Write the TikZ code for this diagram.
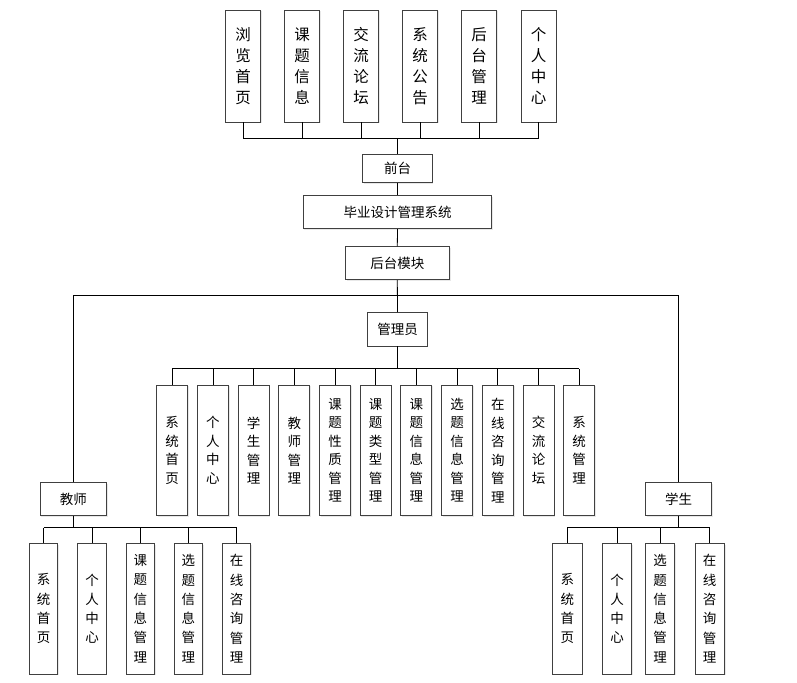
\documentclass[tikz,border=0pt]{standalone}
\usepackage{fontspec}
\setmainfont{Noto Sans CJK SC}
\usetikzlibrary{shadows}
\begin{document}
\begin{tikzpicture}[x=1pt,y=-1pt,
  box/.style={draw=black!75,line width=0.9pt,fill=white,inner sep=0pt,align=center,
    drop shadow={opacity=0.18,shadow xshift=1.2pt,shadow yshift=-1.2pt}},
  topv/.style={box,minimum width=35pt,minimum height=112pt,font=\fontsize{15.5}{21}\selectfont},
  midv/.style={box,minimum width=31pt,minimum height=130.5pt,font=\fontsize{13.5}{18.5}\selectfont},
  lowv/.style={box,minimum width=28.5pt,minimum height=130.5pt,font=\fontsize{13.5}{19.3}\selectfont},
  hbox/.style={box,font=\fontsize{13.5}{15}\selectfont},
  conn/.style={line width=0.8pt,black}]
\useasboundingbox (0,0) rectangle (797,682);
% top modules
\node[topv] (t1) at (243.2,66) {浏\\览\\首\\页};
\node[topv] (t2) at (302,66) {课\\题\\信\\息};
\node[topv] (t3) at (361,66) {交\\流\\论\\坛};
\node[topv] (t4) at (420.2,66) {系\\统\\公\\告};
\node[topv] (t5) at (479.2,66) {后\\台\\管\\理};
\node[topv] (t6) at (538.5,66) {个\\人\\中\\心};
\coordinate (yA) at (0,138);
\node[hbox,minimum width=69.5pt,minimum height=28pt] (qt) at (397.5,168.3) {前台};
\node[hbox,minimum width=188.5pt,minimum height=33pt] (sys) at (397.5,212.2) {毕业设计管理系统};
\node[hbox,minimum width=104pt,minimum height=33pt] (ht) at (397.3,263.2) {后台模块};
\coordinate (yB) at (0,295.5);
\node[hbox,minimum width=59.5pt,minimum height=33.3pt] (gly) at (397.5,329.3) {管理员};
\coordinate (yC) at (0,368.7);
% admin children
\node[midv] (a1) at (172.2,450.4) {系\\统\\首\\页};
\node[midv] (a2) at (212.9,450.4) {个\\人\\中\\心};
\node[midv] (a3) at (253.6,450.4) {学\\生\\管\\理};
\node[midv] (a4) at (294.3,450.4) {教\\师\\管\\理};
\node[midv] (a5) at (335.0,450.4) {课\\题\\性\\质\\管\\理};
\node[midv] (a6) at (375.7,450.4) {课\\题\\类\\型\\管\\理};
\node[midv] (a7) at (416.4,450.4) {课\\题\\信\\息\\管\\理};
\node[midv] (a8) at (457.1,450.4) {选\\题\\信\\息\\管\\理};
\node[midv] (a9) at (497.8,450.4) {在\\线\\咨\\询\\管\\理};
\node[midv] (a10) at (538.5,450.4) {交\\流\\论\\坛};
\node[midv] (a11) at (579.2,450.4) {系\\统\\管\\理};
% teacher
\node[hbox,minimum width=66.7pt,minimum height=33pt] (js) at (73.3,499.2) {教师};
\coordinate (yD) at (0,527.5);
\node[lowv] (j1) at (43.5,608.7) {系\\统\\首\\页};
\node[lowv] (j2) at (92,608.7) {个\\人\\中\\心};
\node[lowv] (j3) at (140.3,608.7) {课\\题\\信\\息\\管\\理};
\node[lowv] (j4) at (188.3,608.7) {选\\题\\信\\息\\管\\理};
\node[lowv] (j5) at (236.5,608.7) {在\\线\\咨\\询\\管\\理};
% student
\node[hbox,minimum width=66.4pt,minimum height=33.4pt] (xs) at (678.5,499) {学生};
\node[lowv,minimum width=29.3pt] (s1) at (567.3,608.7) {系\\统\\首\\页};
\node[lowv,minimum width=29.3pt] (s2) at (617.2,608.7) {个\\人\\中\\心};
\node[lowv,minimum width=29.3pt] (s3) at (660,608.7) {选\\题\\信\\息\\管\\理};
\node[lowv,minimum width=29.3pt] (s4) at (709.7,608.7) {在\\线\\咨\\询\\管\\理};
% connectors: top
\foreach \n in {t1,t2,t3,t4,t5,t6} \draw[conn] (\n.south) -- (\n.south |- yA);
\draw[conn] (t1.south |- yA) -- (t6.south |- yA);
\draw[conn] (qt.north) -- (qt.north |- yA);
\draw[conn] (qt.south) -- (sys.north);
\draw[conn] (sys.south) -- (ht.north);
% backend
\draw[conn] (ht.south) -- (gly.north);
\draw[conn] (js.north) |- (ht.south |- yB) -| (xs.north);
% admin
\draw[conn] (gly.south) -- (gly.south |- yC);
\foreach \n in {a1,a2,a3,a4,a5,a6,a7,a8,a9,a10,a11} \draw[conn] (\n.north) -- (\n.north |- yC);
\draw[conn] (a1.north |- yC) -- (a11.north |- yC);
% teacher
\draw[conn] (js.south) -- (js.south |- yD);
\foreach \n in {j1,j2,j3,j4,j5} \draw[conn] (\n.north) -- (\n.north |- yD);
\draw[conn] (j1.north |- yD) -- (j5.north |- yD);
% student
\draw[conn] (xs.south) -- (xs.south |- yD);
\foreach \n in {s1,s2,s3,s4} \draw[conn] (\n.north) -- (\n.north |- yD);
\draw[conn] (s1.north |- yD) -- (s4.north |- yD);
\end{tikzpicture}
\end{document}
